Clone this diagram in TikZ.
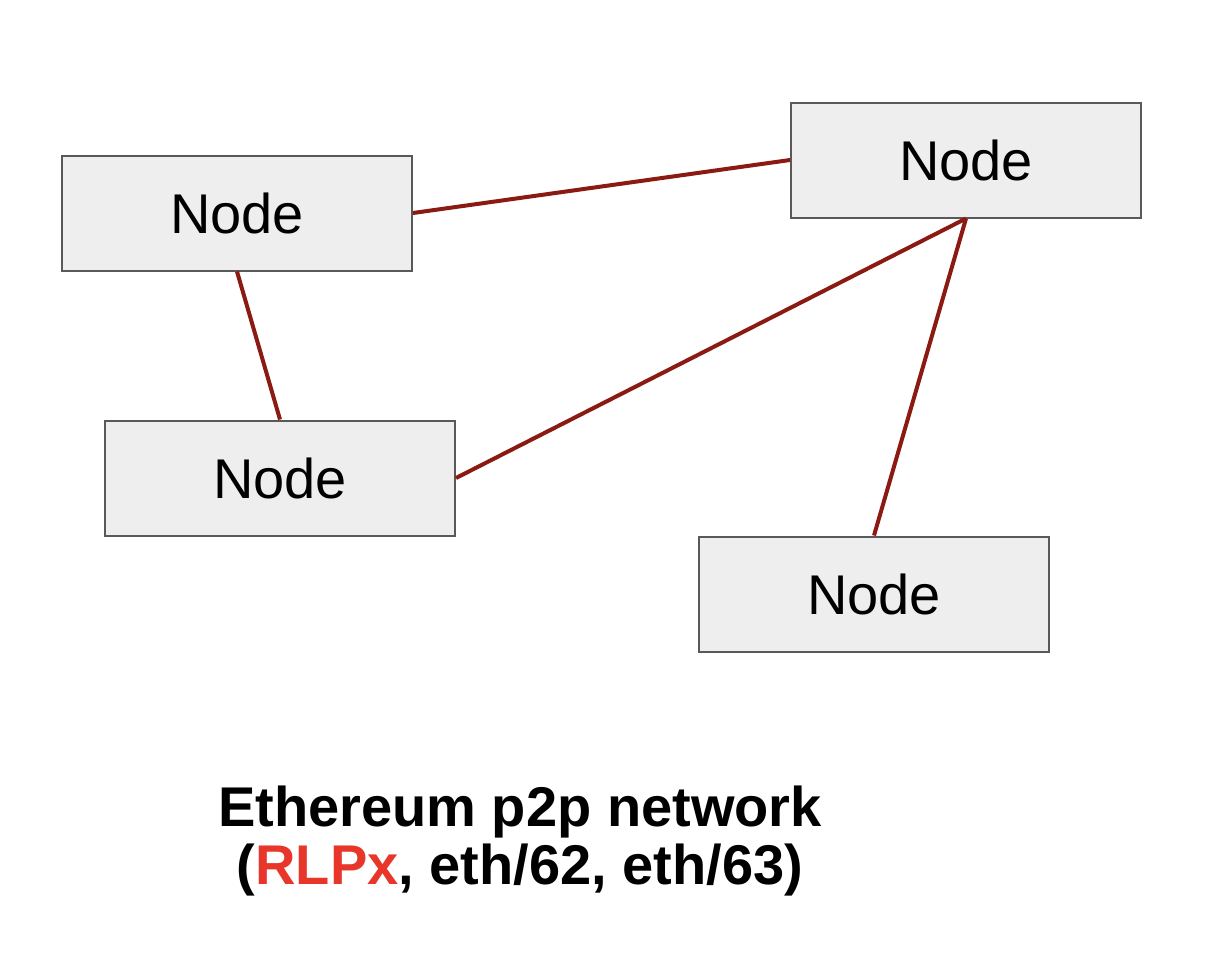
\documentclass[tikz,border=0pt]{standalone}
\usepackage{fontspec}
\setmainfont{Liberation Sans}
\definecolor{linkred}{HTML}{8B1A12}
\definecolor{rlpxred}{HTML}{E8362A}
\definecolor{boxfill}{HTML}{EEEEEE}
\definecolor{boxdraw}{HTML}{595959}

\begin{document}
\begin{tikzpicture}[x=0.5pt, y=-0.5pt]
        \tikzset{peer/.style={draw=boxdraw, fill=boxfill, line width=1pt, minimum width=175pt, minimum height=57.5pt, inner sep=0pt, font=\fontsize{28}{32}\selectfont},
            link/.style={linkred, line width=2pt}}
        \useasboundingbox (0,0) rectangle (1210,960);
        \node[peer] (nodeA) at (237,213) {Node};
        \node[peer] (nodeB) at (966,160) {Node};
        \node[peer] (nodeC) at (280,478) {Node};
        \node[peer] (nodeD) at (874,594) {Node};
        \draw[link] (nodeA.east) -- (nodeB.west);
        \draw[link] (nodeA.south) -- (nodeC.north);
        \draw[link] (nodeC.east) -- (nodeB.south);
        \draw[link] (nodeB.south) -- (nodeD.north);
        \node[font=\bfseries\fontsize{28}{29}\selectfont, align=center] (title) at (520,841)
            {Ethereum p2p network\\({\color{rlpxred}RLPx}, eth/62, eth/63)};
    \end{tikzpicture}
\end{document}
